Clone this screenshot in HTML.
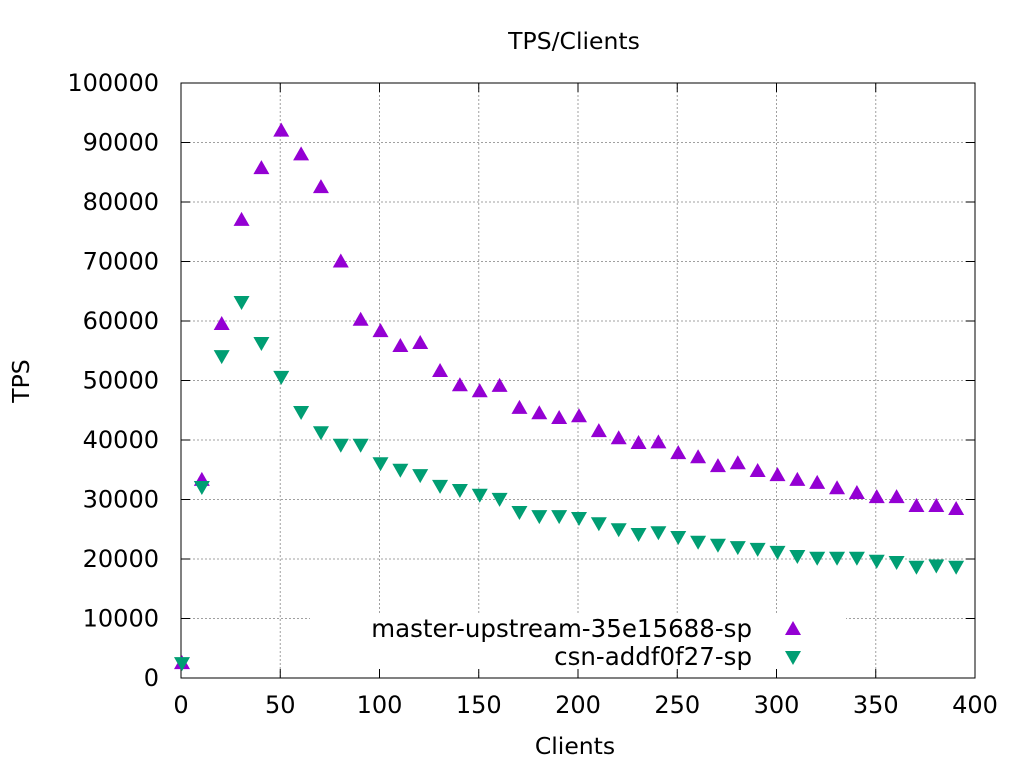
<!DOCTYPE html>
<html><head><meta charset="utf-8"><style>
body{margin:0;background:#fff}
text{font-family:"DejaVu Sans",sans-serif;font-size:24px;fill:#000}
</style></head><body>
<svg id="s" width="1024" height="768" xmlns="http://www.w3.org/2000/svg">
<rect width="1024" height="768" fill="#fff"/>
<g id="grid" stroke="#a0a0a0" stroke-width="1" stroke-dasharray="2,2"></g>
<rect x="310" y="614" width="536" height="58" fill="#fff"/>
<rect x="181" y="83" width="794" height="595" fill="none" stroke="#000" stroke-width="1"/>
<g id="ticks" stroke="#000"></g>
<text x="574" y="49" text-anchor="middle" style="font-size:23.5px">TPS/Clients</text>
<text x="575" y="754" text-anchor="middle" style="font-size:23.5px">Clients</text>
<text transform="translate(29,381) rotate(-90)" text-anchor="middle" style="font-size:23.5px">TPS</text>
<g id="lab"></g>
<text x="752" y="637" text-anchor="end" style="font-size:24.5px">master-upstream-35e15688-sp</text>
<text x="752" y="665" text-anchor="end" style="font-size:24.5px">csn-addf0f27-sp</text>
<g id="pts"></g>
</svg>
<script>
var NS="http://www.w3.org/2000/svg";
function el(p,t,a){var e=document.createElementNS(NS,t);for(var k in a)e.setAttribute(k,a[k]);document.getElementById(p).appendChild(e);return e;}
function X(x){return 181+x*1.985}function Y(y){return 678-y*0.00595}
for(var i=0;i<=10;i++){var y=Y(i*10000);
 if(i>0&&i<10)el("grid","line",{x1:181,x2:975,y1:y,y2:y});
 el("ticks","line",{x1:181,x2:190,y1:y,y2:y});el("ticks","line",{x1:975,x2:966,y1:y,y2:y});
 var t=el("lab","text",{x:159,y:y+8,"text-anchor":"end"});t.textContent=i*10000;}
for(var i=0;i<=8;i++){var x=X(i*50);
 if(i>0&&i<8)el("grid","line",{x1:x,x2:x,y1:83,y2:678});
 el("ticks","line",{x1:x,x2:x,y1:678,y2:669});el("ticks","line",{x1:x,x2:x,y1:83,y2:92});
 var t=el("lab","text",{x:x,y:713,"text-anchor":"middle"});t.textContent=i*50;}
var m=[2500,33300,59500,77000,85700,92000,88000,82500,70000,60200,58300,55800,56300,51600,49200,48200,49100,45400,44500,43700,44000,41500,40300,39500,39600,37800,37100,35600,36100,34800,34100,33300,32800,31900,31100,30400,30400,28900,28900,28400];
var c=[2500,32100,54100,63200,56300,50600,44700,41300,39200,39200,36100,35000,34100,32300,31600,30800,30100,27900,27200,27200,26900,26000,25000,24200,24500,23700,22900,22400,22000,21700,21200,20500,20200,20200,20200,19700,19500,18700,18900,18700];
function up(x,y){el("pts","polygon",{points:(x-8)+","+(y+6)+" "+(x+8)+","+(y+6)+" "+x+","+(y-8),fill:"#9400d3"});}
function dn(x,y){el("pts","polygon",{points:(x-8)+","+(y-6)+" "+(x+8)+","+(y-6)+" "+x+","+(y+8),fill:"#009e73"});}
for(var i=0;i<40;i++){up(X(i*10)+1,Y(m[i]));}
for(var i=0;i<40;i++){dn(X(i*10)+1,Y(c[i]));}
up(793,629);dn(793,657);
</script>
</body></html>
